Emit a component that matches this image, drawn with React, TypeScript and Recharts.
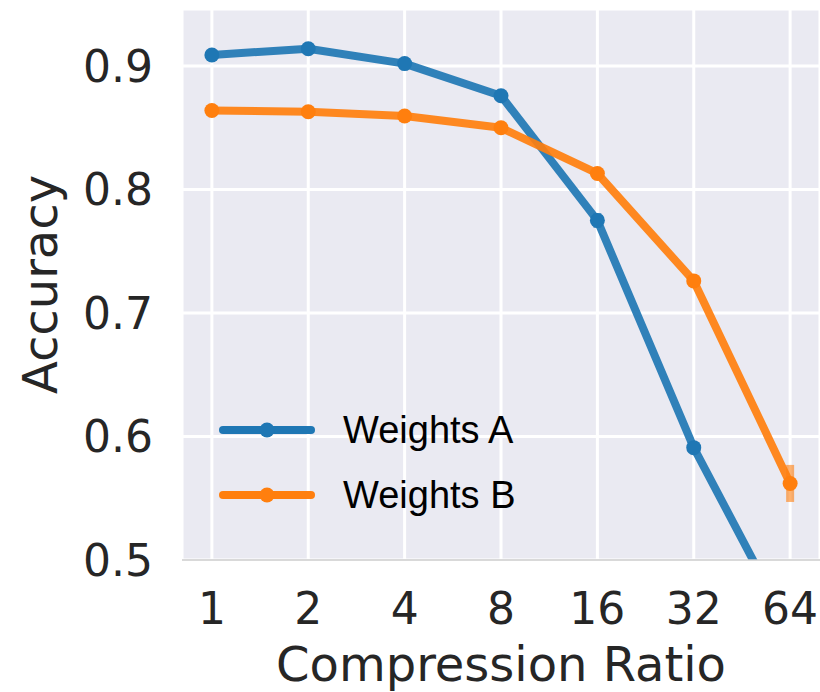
import React from 'react';
import { LineChart, Line, XAxis, YAxis, CartesianGrid, ErrorBar, Legend, Label } from 'recharts';

const ratioLabels = ['1', '2', '4', '8', '16', '32', '64'];
const weightsA = [0.909, 0.914, 0.902, 0.876, 0.775, 0.591, 0.443];
const weightsB = [0.864, 0.863, 0.8595, 0.85, 0.813, 0.726, 0.562];
const errA = [0, 0, 0, 0, 0.006, 0, 0];
const errB = [0, 0.003, 0, 0, 0, 0, 0.015];
const yTicks = [0.5, 0.6, 0.7, 0.8, 0.9];
const seriesNames = ['Weights A', 'Weights B'];
const colors = ['#1f77b4', '#ff7f0e'];

const data = ratioLabels.map((r, i) => ({
  idx: i,
  ratio: r,
  a: weightsA[i],
  b: weightsB[i],
  errA: errA[i],
  errB: errB[i],
}));

const FONT = "'DejaVu Sans', sans-serif";
const TEXT = '#262626';
const LW = 8;
const DOT_R = 7.5;

const renderLegend = () => (
  <div style={{ lineHeight: 1 }}>
    {seriesNames.map((n, i) => (
      <div key={n} style={{ display: 'flex', alignItems: 'center', height: 65 }}>
        <svg width={104} height={20} style={{ display: 'block' }}>
          <line x1={8} x2={96} y1={10} y2={10} stroke={colors[i]} strokeWidth={LW} strokeLinecap="round" />
          <circle cx={52} cy={10} r={DOT_R} fill={colors[i]} />
        </svg>
        <span style={{ marginLeft: 24, fontFamily: "'Liberation Sans', Arial, sans-serif", fontSize: 38, color: '#000' }}>{n}</span>
      </div>
    ))}
  </div>
);

export default function App() {
  return (
    <div style={{ position: 'absolute', left: 0, top: 0, width: 820, height: 692, background: '#fff' }}>
      <LineChart width={820} height={692} data={data} margin={{ top: 9, right: 0, bottom: 0, left: 0 }}>
        <CartesianGrid fill="#EAEAF2" stroke="#ffffff" strokeWidth={3} />
        <XAxis
          dataKey="idx"
          type="number"
          domain={[-0.31, 6.31]}
          ticks={[0, 1, 2, 3, 4, 5, 6]}
          tickFormatter={(v: number) => ratioLabels[v]}
          height={132}
          tickSize={0}
          tickMargin={33}
          axisLine={{ stroke: '#cccccc', strokeWidth: 1.5 }}
          tick={{ fontSize: 44, fill: TEXT, fontFamily: FONT }}
          allowDataOverflow
        >
          <Label
            content={(props: any) => {
              const vb = props.viewBox || {};
              const cx = (vb.x ?? 182) + (vb.width ?? 638) / 2;
              return (
                <text x={cx} y={681} textAnchor="middle" fontSize={48} fill={TEXT} fontFamily={FONT}>
                  Compression Ratio
                </text>
              );
            }}
          />
        </XAxis>
        <YAxis
          type="number"
          domain={[0.5, 0.9462]}
          ticks={yTicks}
          width={182}
          tickSize={0}
          tickMargin={29}
          axisLine={false}
          allowDataOverflow
          tickFormatter={(v: number) => v.toFixed(1)}
          tick={{ fontSize: 44, fill: TEXT, fontFamily: FONT }}
        >
          <Label
            content={(props: any) => {
              const vb = props.viewBox || {};
              const cy = (vb.y ?? 9) + (vb.height ?? 551) / 2;
              return (
                <text x={57} y={cy} transform={`rotate(-90 57 ${cy})`} textAnchor="middle" fontSize={48} fill={TEXT} fontFamily={FONT}>
                  Accuracy
                </text>
              );
            }}
          />
        </YAxis>
        <Legend
          content={renderLegend}
          layout="vertical"
          align="center"
          verticalAlign="middle"
          wrapperStyle={{ left: 215, top: 397.5, width: 'auto', height: 'auto' }}
        />
        <Line
          dataKey="a"
          name={seriesNames[0]}
          stroke={colors[0]}
          strokeWidth={LW}
          strokeOpacity={0.92}
          strokeLinejoin="round"
          dot={{ r: DOT_R, fill: colors[0], stroke: 'none', fillOpacity: 1 }}
          activeDot={false}
          isAnimationActive={false}
        >
          <ErrorBar dataKey="errA" width={0} strokeWidth={8} stroke={colors[0]} opacity={0.6} direction="y" />
        </Line>
        <Line
          dataKey="b"
          name={seriesNames[1]}
          stroke={colors[1]}
          strokeWidth={LW}
          strokeOpacity={0.92}
          strokeLinejoin="round"
          dot={{ r: DOT_R, fill: colors[1], stroke: 'none', fillOpacity: 1 }}
          activeDot={false}
          isAnimationActive={false}
        >
          <ErrorBar dataKey="errB" width={0} strokeWidth={8} stroke={colors[1]} opacity={0.6} direction="y" />
        </Line>
      </LineChart>
    </div>
  );
}
